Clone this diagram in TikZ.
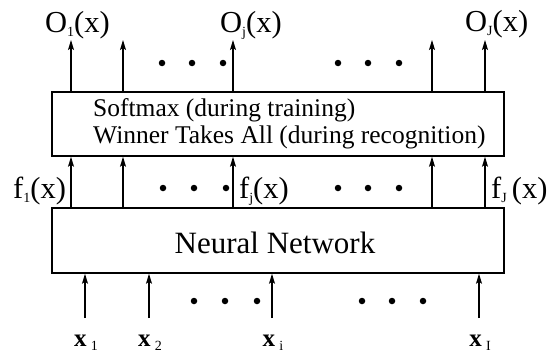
\documentclass[tikz,border=0pt]{standalone}
\usepackage{fontspec}
\setmainfont{Liberation Serif}
\usetikzlibrary{arrows.meta}
\newcommand\lsub[1]{\raisebox{-0.3ex}{\fontsize{14}{14}\selectfont #1}}
\newcommand\xsub[1]{\raisebox{-0.35ex}{\fontsize{14}{14}\selectfont\mdseries #1}}
\begin{document}
\begin{tikzpicture}[x=1pt,y=-1pt,
  box/.style={draw,line width=1.5pt,rectangle,inner sep=0},
  arr/.style={line width=1.3pt,-{Stealth[length=10pt,width=6pt,inset=2pt]}},
  lab/.style={inner sep=0,anchor=base west,font=\fontsize{30.5}{30.5}\selectfont},
  xlab/.style={inner sep=0,anchor=base,font=\bfseries\fontsize{25}{25}\selectfont},
  boxtext/.style={inner sep=0,anchor=base west,font=\fontsize{25.5}{25.5}\selectfont},
  dotn/.style={circle,fill,inner sep=0,minimum size=6.5pt}]
\useasboundingbox (0,0) rectangle (558,356);
% boxes
\node[box,minimum width=452pt,minimum height=64pt] (sm) at (278,124) {};
\node[box,minimum width=452pt,minimum height=65pt] (nn) at (278,240.5) {};
\node[boxtext] (t1) at (93,116) {Softmax (during training)};
\node[boxtext] (t2) at (93,143) {Winner Takes All (during recognition)};
\node[inner sep=0,anchor=base,font=\fontsize{31}{31}\selectfont] (nt) at (275,253) {Neural Network};
% arrow coordinates
\coordinate (o1) at (71,40);
\coordinate (o2) at (123,40);
\coordinate (o3) at (233,40);
\coordinate (o4) at (432,40);
\coordinate (o5) at (485,40);
\foreach \c in {o1,o2,o3,o4,o5}{
  \draw[arr] (sm.north -| \c) -- (\c);
  \draw[arr] (nn.north -| \c) -- (sm.south -| \c);
}
\coordinate (i1) at (85,318);
\coordinate (i2) at (149,318);
\coordinate (i3) at (272,318);
\coordinate (i4) at (479,318);
\foreach \c in {i1,i2,i3,i4}{
  \draw[arr] (\c) -- (nn.south -| \c);
}
% labels
\node[lab] (O1) at (45,32) {O\lsub{1}(x)};
\node[lab] (Oj) at (220,32) {O\lsub{j}(x)};
\node[lab] (OJ) at (465,31) {O\lsub{J}(x)};
\node[lab] (f1) at (13,198) {f\lsub{1}(x)};
\node[lab] (fj) at (239,198) {f\lsub{j}(x)};
\node[lab] (fJ) at (491,198) {f\lsub{J}\,(x)};
\node[xlab] (x1) at (86,346) {x\,\xsub{1}};
\node[xlab] (x2) at (150,346) {x\,\xsub{2}};
\node[xlab] (xi) at (273,346) {x\,\xsub{i}};
\node[xlab] (xI) at (480,346) {x\,\xsub{I}};
% dots
\foreach \x in {162,192,223,338,368,399}{ \node[dotn] at (\x,63) {}; }
\foreach \x in {163,194,226,338,368,399}{ \node[dotn] at (\x,188) {}; }
\foreach \x in {194,225,257,362,392,423}{ \node[dotn] at (\x,301) {}; }
\end{tikzpicture}
\end{document}
